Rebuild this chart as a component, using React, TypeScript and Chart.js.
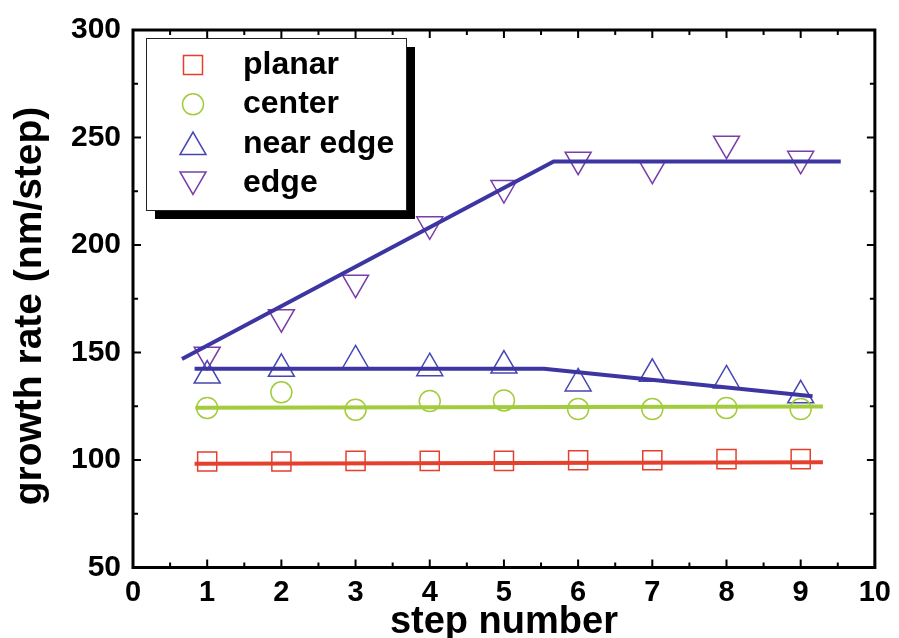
import { useEffect, useRef } from 'react';
import { Chart, registerables } from 'chart.js';

Chart.register(...registerables);

// ---- data ----
const steps = [1, 2, 3, 4, 5, 6, 7, 8, 9];
const planar = [99.3, 99.3, 99.6, 99.6, 99.6, 99.9, 99.9, 100.4, 100.4];
const center = [124.2, 131.5, 123.4, 127.4, 127.7, 123.7, 123.7, 124.2, 123.7];
const nearEdge = [139.3, 142.4, 146.3, 142.7, 143.9, 135.6, 140.1, 137.0, 130.1];
const edge = [149.0, 166.4, 182.5, 209.6, 226.5, 239.7, 235.5, 247.1, 240.1];

// fitted guide lines (x, y)
const planarFitX = [0.83, 9.3];
const planarFitY = [98.2, 98.9];
const centerFitX = [0.84, 9.3];
const centerFitY = [124.3, 124.9];
const nearEdgeFitX = [0.83, 5.54, 9.16];
const nearEdgeFitY = [142.4, 142.4, 129.7];
const edgeFitX = [0.66, 5.67, 9.54];
const edgeFitY = [147.0, 238.8, 238.8];

const xTickValues = [0, 1, 2, 3, 4, 5, 6, 7, 8, 9, 10];
const yTickValues = [50, 100, 150, 200, 250, 300];
const legendLabels = ['planar', 'center', 'near edge', 'edge'];
const xTitle = 'step number';
const yTitle = 'growth rate (nm/step)';

const RED = '#e5402e';
const GREEN = '#a3cc3c';
const BLUE = '#4646b4';
const PURPLE = '#7a3ea8';
const LINE_BLUE = '#3d36a2';
const FONT = '"Liberation Sans", Arial, sans-serif';

const pts = (xs: number[], ys: number[]) => xs.map((x, i) => ({ x, y: ys[i] }));

function drawMarker(ctx: CanvasRenderingContext2D, kind: string, x: number, y: number, color: string) {
  ctx.save();
  ctx.strokeStyle = color;
  ctx.lineWidth = 1.5;
  ctx.beginPath();
  if (kind === 'rect') {
    const s = 9.5;
    ctx.rect(x - s, y - s, 2 * s, 2 * s);
  } else if (kind === 'circle') {
    ctx.arc(x, y, 10.5, 0, Math.PI * 2);
  } else if (kind === 'up') {
    const r = 15;
    ctx.moveTo(x, y - r);
    ctx.lineTo(x + r * Math.sin(Math.PI / 3), y + r / 2);
    ctx.lineTo(x - r * Math.sin(Math.PI / 3), y + r / 2);
    ctx.closePath();
  } else {
    const r = 15;
    ctx.moveTo(x, y + r);
    ctx.lineTo(x + r * Math.sin(Math.PI / 3), y - r / 2);
    ctx.lineTo(x - r * Math.sin(Math.PI / 3), y - r / 2);
    ctx.closePath();
  }
  ctx.stroke();
  ctx.restore();
}

const framePlugin = {
  id: 'frameAndLegend',
  afterDatasetsDraw(chart: any) {
    const { ctx, chartArea, scales } = chart;
    const { left, right, top, bottom } = chartArea;
    const xs = scales.x;
    const ys = scales.y;
    ctx.save();
    ctx.strokeStyle = '#000';
    ctx.lineWidth = 2;
    ctx.beginPath();
    for (let v = 0; v <= 10.001; v += 0.5) {
      const px = xs.getPixelForValue(v);
      const len = Math.abs(v - Math.round(v)) < 1e-6 ? 8 : 5;
      ctx.moveTo(px, bottom);
      ctx.lineTo(px, bottom - len);
      ctx.moveTo(px, top);
      ctx.lineTo(px, top + len);
    }
    for (let v = 50; v <= 300.001; v += 25) {
      const py = ys.getPixelForValue(v);
      const len = v % 50 === 0 ? 8 : 5;
      ctx.moveTo(left, py);
      ctx.lineTo(left + len, py);
      ctx.moveTo(right, py);
      ctx.lineTo(right - len, py);
    }
    ctx.stroke();
    ctx.lineWidth = 3;
    ctx.strokeRect(left, top, right - left, bottom - top);

    // y-axis title
    ctx.save();
    ctx.translate(41, 306);
    ctx.rotate(-Math.PI / 2);
    ctx.font = `bold 39px ${FONT}`;
    ctx.textAlign = 'center';
    ctx.textBaseline = 'alphabetic';
    ctx.fillStyle = '#000';
    ctx.fillText(yTitle, 0, 0);
    ctx.restore();

    // x-axis title
    ctx.font = `bold 38px ${FONT}`;
    ctx.textAlign = 'center';
    ctx.textBaseline = 'alphabetic';
    ctx.fillStyle = '#000';
    ctx.fillText(xTitle, (left + right) / 2, 633);

    // legend
    const bx = 146, by = 38, bw = 260, bh = 172;
    ctx.fillStyle = '#000';
    ctx.fillRect(bx + 9, by + 9, bw, bh);
    ctx.fillStyle = '#fff';
    ctx.fillRect(bx, by, bw, bh);
    ctx.lineWidth = 1;
    ctx.strokeStyle = '#222';
    ctx.strokeRect(bx + 0.5, by + 0.5, bw, bh);
    const kinds = ['rect', 'circle', 'up', 'down'];
    const colors = [RED, GREEN, BLUE, PURPLE];
    const offsets = [0, 0, 3.5, -3.5];
    ctx.font = `bold 32px ${FONT}`;
    ctx.textBaseline = 'alphabetic';
    ctx.textAlign = 'left';
    for (let i = 0; i < 4; i++) {
      const ry = 65 + 39.3 * i;
      drawMarker(ctx, kinds[i], 193, ry + offsets[i], colors[i]);
      ctx.fillStyle = '#000';
      ctx.fillText(legendLabels[i], 243, ry + 9);
    }
    ctx.restore();
  },
};

export default function App() {
  const ref = useRef<HTMLCanvasElement | null>(null);

  useEffect(() => {
    if (!ref.current) return;
    const scatterDs = (label: string, data: number[], color: string, style: any, rotation = 0, radius = 13.5) => ({
      type: 'scatter' as const,
      label,
      data: pts(steps, data),
      showLine: false,
      pointStyle: style,
      rotation,
      pointRadius: radius,
      pointBorderColor: color,
      pointBackgroundColor: 'rgba(0,0,0,0)',
      pointBorderWidth: 1.5,
      borderColor: color,
    });
    const lineDs = (label: string, xs: number[], ys: number[], color: string) => ({
      type: 'line' as const,
      label,
      data: pts(xs, ys),
      borderColor: color,
      borderWidth: 4,
      pointRadius: 0,
      tension: 0,
      fill: false,
    });

    const chart = new Chart(ref.current, {
      type: 'scatter',
      data: {
        datasets: [
          lineDs('edge fit', edgeFitX, edgeFitY, LINE_BLUE),
          lineDs('near edge fit', nearEdgeFitX, nearEdgeFitY, LINE_BLUE),
          lineDs('center fit', centerFitX, centerFitY, GREEN),
          lineDs('planar fit', planarFitX, planarFitY, RED),
          scatterDs('planar', planar, RED, 'rect', 0, 13.5),
          scatterDs('center', center, GREEN, 'circle', 0, 10.5),
          scatterDs('near edge', nearEdge, BLUE, 'triangle', 0, 15),
          scatterDs('edge', edge, PURPLE, 'triangle', 180, 15),
        ] as any,
      },
      options: {
        responsive: false,
        animation: false,
        devicePixelRatio: 1,
        layout: { padding: { left: 0, top: 27, right: 18.5, bottom: 0 } },
        plugins: { legend: { display: false }, tooltip: { enabled: false } },
        scales: {
          x: {
            type: 'linear',
            min: 0,
            max: 10,
            afterFit: (s: any) => { s.height = 70.5; },
            afterBuildTicks: (s: any) => { s.ticks = xTickValues.map((v) => ({ value: v })); },
            grid: { display: false, drawTicks: false },
            border: { display: false },
            ticks: {
              autoSkip: false,
              maxRotation: 0,
              padding: 8,
              color: '#000',
              font: { family: FONT, size: 29, weight: 'bold' },
            },
            title: { display: false },
          },
          y: {
            type: 'linear',
            min: 50,
            max: 300,
            afterFit: (s: any) => { s.width = 133; },
            afterBuildTicks: (s: any) => { s.ticks = yTickValues.map((v) => ({ value: v })); },
            grid: { display: false, drawTicks: false },
            border: { display: false },
            ticks: {
              autoSkip: false,
              padding: 12,
              color: '#000',
              font: { family: FONT, size: 30, weight: 'bold' },
            },
            title: { display: false },
          },
        },
      },
      plugins: [framePlugin],
    });
    return () => chart.destroy();
  }, []);

  return (
    <div style={{ position: 'fixed', left: 0, top: 0, width: 899, height: 638, background: '#fff' }}>
      <canvas ref={ref} width={899} height={638} style={{ display: 'block' }} />
    </div>
  );
}
